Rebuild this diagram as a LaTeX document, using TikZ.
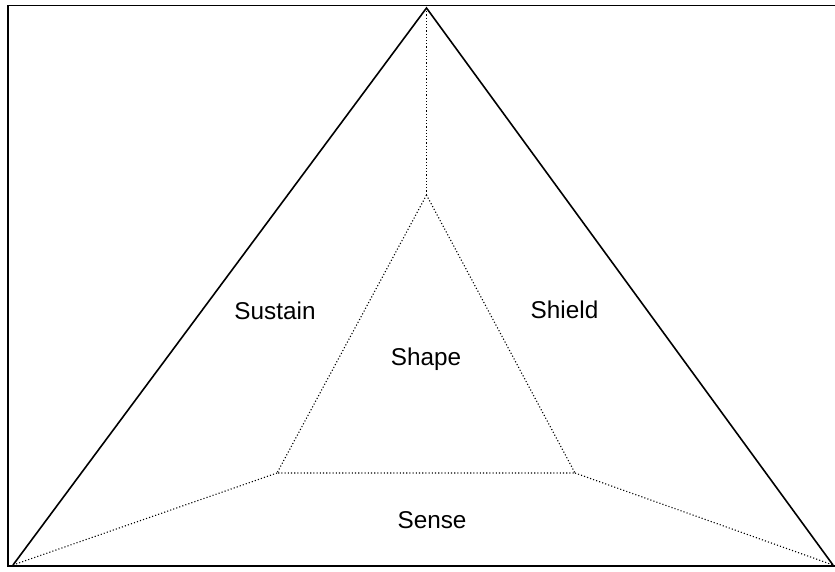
\documentclass[tikz,border=0pt]{standalone}
\usepackage{fontspec}
\setmainfont{Liberation Sans}
\begin{document}
\begin{tikzpicture}[x=1pt,y=-1pt,
  solidline/.style={line width=1.6pt, line join=miter},
  dotline/.style={line width=1.1pt, dash pattern=on 1.1pt off 2.1pt},
  lbl/.style={anchor=base, inner sep=0pt, font=\fontsize{24.3}{29}\selectfont}]
\useasboundingbox (0,0) rectangle (835,571);
% frame (open on the right)
\coordinate (fTR) at (835,5.5);
\coordinate (fTL) at (8,5.5);
\coordinate (fBL) at (8,566);
\coordinate (fBR) at (835,566);
\draw[solidline] (fTR) -- (fTL) -- (fBL) -- (fBR);
% outer triangle
\coordinate (apex) at (426.5,8);
\coordinate (bl) at (13,565);
\coordinate (br) at (833,565);
\draw[solidline] (bl) -- (apex) -- (br);
% inner triangle
\coordinate (itop) at (426.5,195);
\coordinate (ibl) at (277,473);
\coordinate (ibr) at (575,473);
\draw[dotline] (itop) -- (ibl) -- (ibr) -- cycle;
\draw[dotline] (apex) -- (itop);
\draw[dotline] (ibl) -- (bl);
\draw[dotline] (ibr) -- (br);
% labels
\node[lbl] (sustain) at (275,319) {Sustain};
\node[lbl] (shield) at (564.5,318.5) {Shield};
\node[lbl] (shape) at (426,365) {Shape};
\node[lbl] (sense) at (432,528) {Sense};
\end{tikzpicture}
\end{document}
